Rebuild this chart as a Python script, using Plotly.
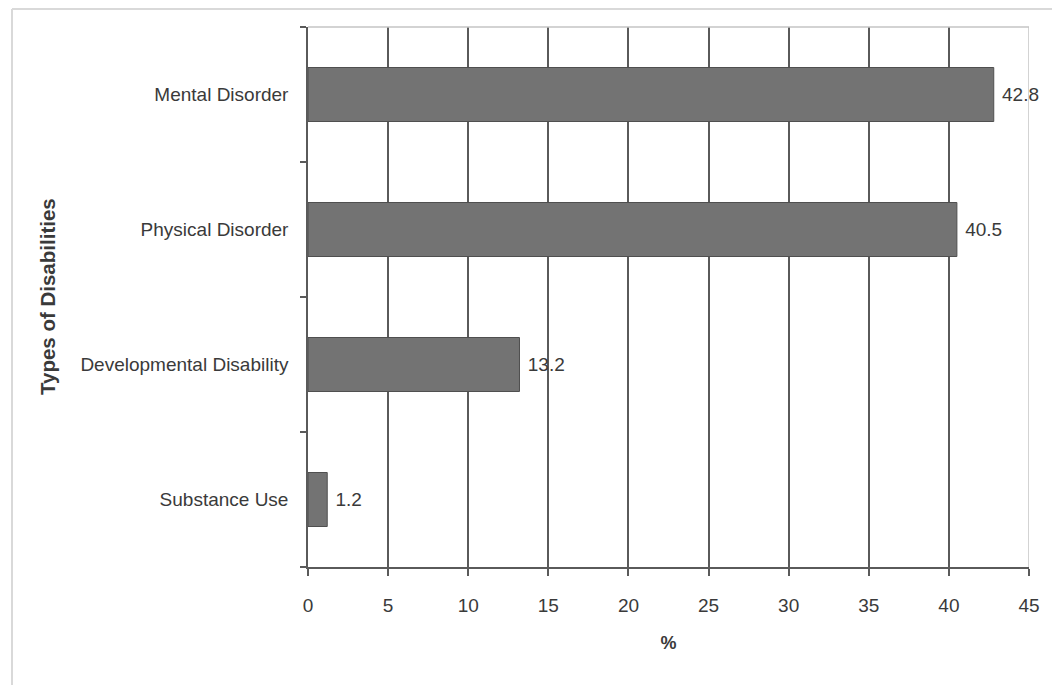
import plotly.graph_objects as go

# Share of each disability type (%)
categories = ["Mental Disorder", "Physical Disorder", "Developmental Disability", "Substance Use"]
values = [42.8, 40.5, 13.2, 1.2]
x_ticks = [0, 5, 10, 15, 20, 25, 30, 35, 40, 45]

FONT = "Liberation Sans, Arial, sans-serif"
TEXT = "#3a3a3a"
GRID = "#5a5a5a"

fig = go.Figure(
    go.Bar(
        x=values,
        y=categories,
        orientation="h",
        marker=dict(color="#737373", line=dict(color="#4f4f4f", width=1)),
        text=[f" {v:.1f}" for v in values],
        textposition="outside",
        textfont=dict(family=FONT, size=19, color=TEXT),
        cliponaxis=False,
    )
)

fig.update_layout(
    width=1052,
    height=685,
    margin=dict(l=308, r=23, t=27, b=118),
    paper_bgcolor="white",
    plot_bgcolor="white",
    bargap=0.6,
    showlegend=False,
    font=dict(family=FONT, size=19, color=TEXT),
    xaxis=dict(
        range=[0, 45],
        tickvals=x_ticks,
        ticktext=[str(t) for t in x_ticks],
        showgrid=True,
        gridcolor=GRID,
        gridwidth=1.5,
        zeroline=False,
        showline=True,
        linecolor=GRID,
        linewidth=1.5,
        ticks="outside",
        ticklen=7,
        tickwidth=1.5,
        tickcolor=GRID,
        ticklabelstandoff=13,
        tickfont=dict(family=FONT, size=19, color=TEXT),
        title=dict(text="<b>%</b>", font=dict(family=FONT, size=18, color=TEXT), standoff=22),
    ),
    yaxis=dict(
        categoryorder="array",
        categoryarray=categories[::-1],
        showgrid=False,
        zeroline=False,
        showline=True,
        linecolor=GRID,
        linewidth=1.5,
        ticks="outside",
        tickson="boundaries",
        ticklen=6,
        tickwidth=1.5,
        tickcolor=GRID,
        ticklabelstandoff=14,
        tickfont=dict(family=FONT, size=19, color=TEXT),
    ),
    annotations=[
        dict(
            text="<b>Types of Disabilities</b>",
            xref="paper", yref="paper",
            x=(47 - 308) / 721, y=0.5,
            xanchor="center", yanchor="middle",
            textangle=-90, showarrow=False,
            font=dict(family=FONT, size=20.5, color=TEXT),
        )
    ],
    shapes=[
        # light frame on the top and right of the plot area
        dict(type="line", xref="x", yref="paper", x0=45, x1=45, y0=0, y1=1,
             line=dict(color="#c4c4c4", width=1.5)),
        dict(type="line", xref="x", yref="paper", x0=0, x1=45, y0=1, y1=1,
             line=dict(color="#c4c4c4", width=1.5)),
        # outer chart border
        dict(type="line", xref="paper", yref="paper", x0=(12 - 308) / 721, x1=(12 - 308) / 721,
             y0=-0.3, y1=1 + 18 / 540, line=dict(color="#d9d9d9", width=2)),
        dict(type="line", xref="paper", yref="paper", x0=(12 - 308) / 721, x1=1.04,
             y0=1 + 18 / 540, y1=1 + 18 / 540, line=dict(color="#d9d9d9", width=2)),
    ],
)

fig.write_html("out.html")
